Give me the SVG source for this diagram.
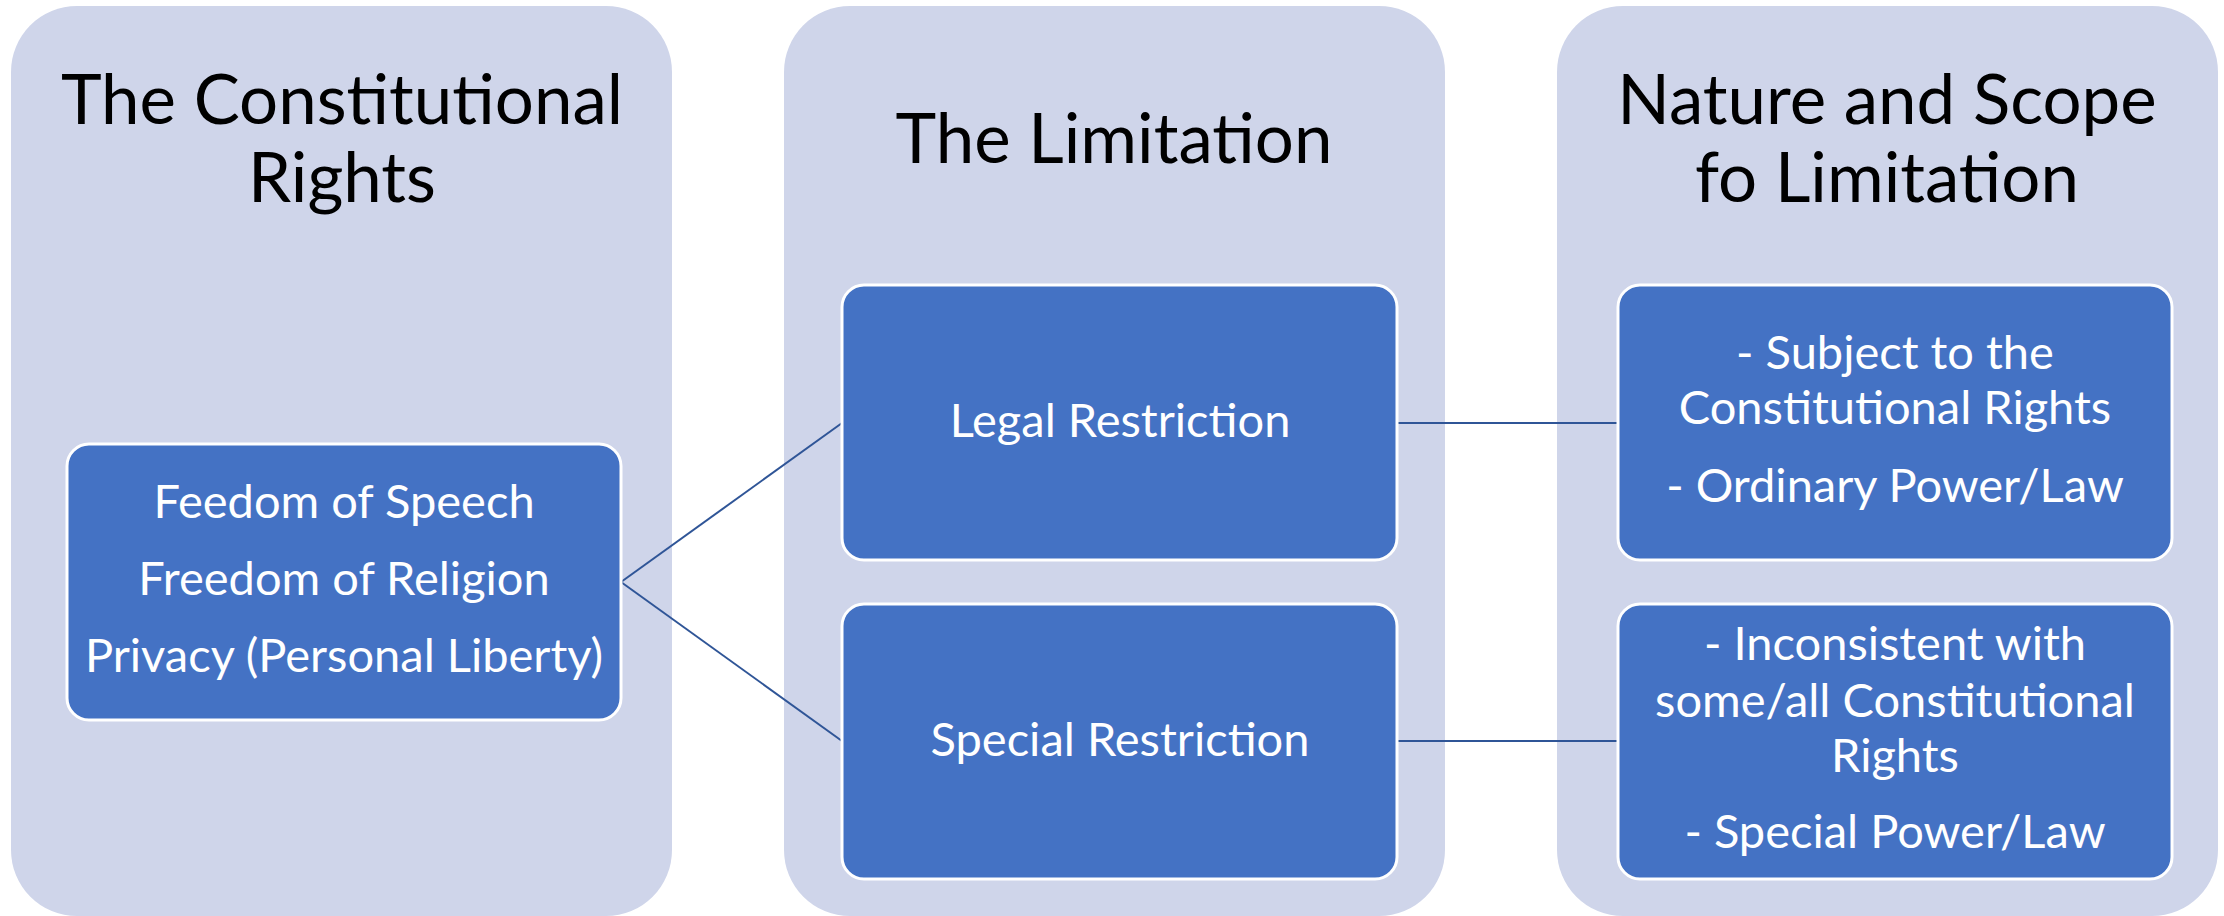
<svg xmlns="http://www.w3.org/2000/svg" width="2224" height="916" viewBox="0 0 2224 916">
<style>
.col{fill:#CFD5EA;}
.box{fill:#4472C4;stroke:#FFFFFF;stroke-width:3;}
.title{font-family:Lato,"Liberation Sans",sans-serif;font-size:69px;fill:#000000;text-anchor:middle;}
.lbl{font-family:Lato,"Liberation Sans",sans-serif;font-size:47px;fill:#FFFFFF;text-anchor:middle;}
.conn{stroke:#2F5597;stroke-width:2;fill:none;}
</style>
<rect width="2224" height="916" fill="#FFFFFF"/>
<g id="col1">
<rect class="col" x="11" y="6" width="661" height="910" rx="66"/>
<text class="title" x="342" y="124">The Constitutional</text>
<text class="title" x="342" y="202">Rights</text>
</g>
<g id="col2">
<rect class="col" x="784" y="6" width="661" height="910" rx="66"/>
<text class="title" x="1114" y="163">The Limitation</text>
</g>
<g id="col3">
<rect class="col" x="1557" y="6" width="661" height="910" rx="66"/>
<text class="title" x="1887" y="124">Nature and Scope</text>
<text class="title" x="1887" y="202">fo Limitation</text>
</g>
<g id="connectors">
<line class="conn" x1="621" y1="582" x2="842" y2="423"/>
<line class="conn" x1="621" y1="582" x2="842" y2="741"/>
<line class="conn" x1="1397" y1="423" x2="1618" y2="423"/>
<line class="conn" x1="1397" y1="741" x2="1618" y2="741"/>
</g>
<g id="rights">
<rect class="box" x="67" y="444" width="554" height="276" rx="22"/>
<text class="lbl" x="344" y="518">Feedom of Speech</text>
<text class="lbl" x="344" y="595">Freedom of Religion</text>
<text class="lbl" x="344" y="672">Privacy (Personal Liberty)</text>
</g>
<g id="legal">
<rect class="box" x="842" y="285" width="555" height="275" rx="22"/>
<text class="lbl" x="1120" y="437">Legal Restriction</text>
</g>
<g id="special">
<rect class="box" x="842" y="604" width="555" height="275" rx="22"/>
<text class="lbl" x="1120" y="756">Special Restriction</text>
</g>
<g id="ordinary">
<rect class="box" x="1618" y="285" width="554" height="275" rx="22"/>
<text class="lbl" x="1895" y="369">- Subject to the</text>
<text class="lbl" x="1895" y="424">Constitutional Rights</text>
<text class="lbl" x="1895" y="502">- Ordinary Power/Law</text>
</g>
<g id="inconsistent">
<rect class="box" x="1618" y="604" width="554" height="275" rx="22"/>
<text class="lbl" x="1895" y="660">- Inconsistent with</text>
<text class="lbl" x="1895" y="717">some/all Constitutional</text>
<text class="lbl" x="1895" y="772">Rights</text>
<text class="lbl" x="1895" y="848">- Special Power/Law</text>
</g>
</svg>
